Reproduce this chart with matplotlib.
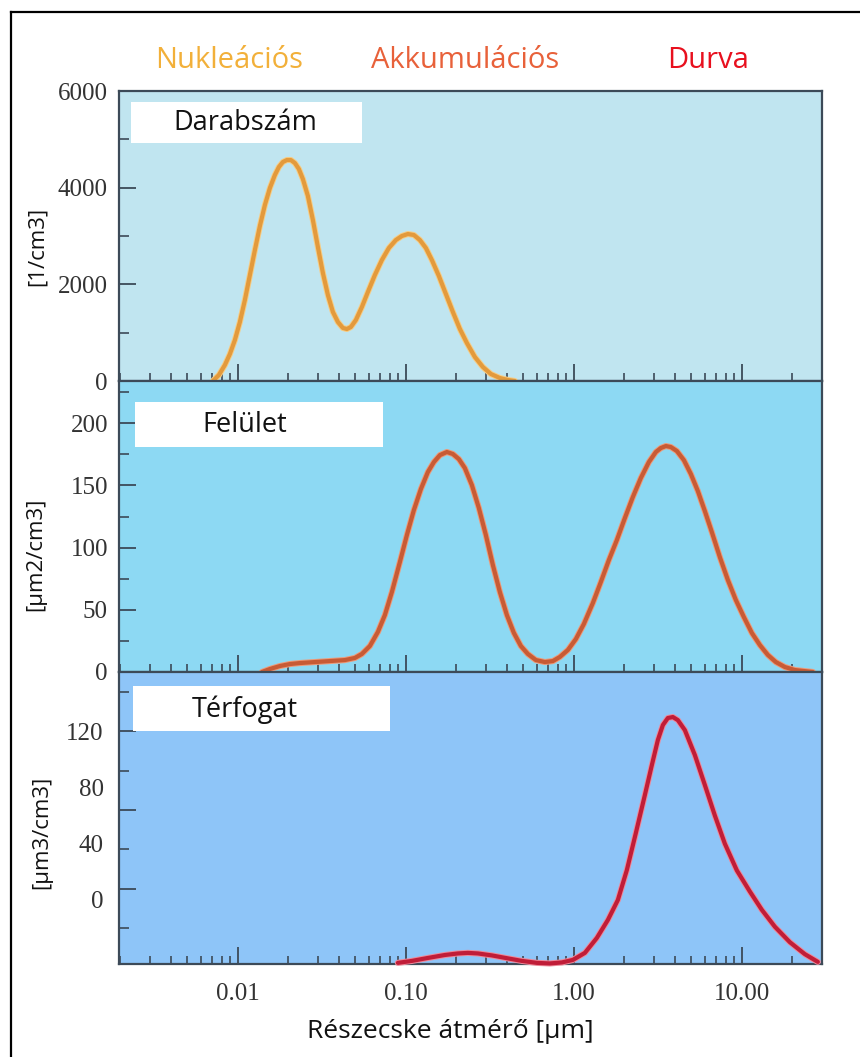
import matplotlib
matplotlib.use("Agg")
import matplotlib.pyplot as plt
import matplotlib.patheffects as pe
from matplotlib.ticker import FixedLocator, LogLocator, NullFormatter

# ---------------- data ----------------
num_d = [0.007099, 0.007706, 0.008368, 0.008962, 0.009597, 0.010278, 0.011007, 0.011788,
         0.012624, 0.013519, 0.014478, 0.015505, 0.016604, 0.017539, 0.018527, 0.019571,
         0.020673, 0.021838, 0.023068, 0.024369, 0.026102, 0.027954, 0.029936, 0.032063,
         0.034337, 0.036775, 0.039377, 0.042170, 0.044548, 0.047058, 0.050396, 0.054715,
         0.059402, 0.065390, 0.071969, 0.079212, 0.087193, 0.094666, 0.10278, 0.11158,
         0.12115, 0.13152, 0.14282, 0.15722, 0.17302, 0.19046, 0.20962, 0.23075, 0.25742,
         0.28727, 0.32063, 0.36265, 0.40469, 0.44548]
num_v = [0, 124, 331, 559, 848, 1221, 1676, 2193, 2710, 3207, 3641, 3993, 4262, 4428, 4531,
         4572, 4572, 4510, 4386, 4179, 3828, 3331, 2773, 2235, 1779, 1428, 1221, 1097, 1076,
         1117, 1262, 1531, 1841, 2193, 2503, 2752, 2917, 3000, 3041, 3021, 2917, 2752, 2503,
         2172, 1800, 1428, 1076, 786, 497, 290, 145, 62, 21, 0]

surf_d = [0.013895, 0.015505, 0.017783, 0.020394, 0.023388, 0.028729, 0.035287, 0.043348,
          0.049714, 0.054715, 0.061054, 0.068129, 0.074989, 0.082540, 0.092100, 0.10139,
          0.11158, 0.12283, 0.13520, 0.14678, 0.15937, 0.17539, 0.19046, 0.20673, 0.22444,
          0.24709, 0.27199, 0.29936, 0.32950, 0.36265, 0.39921, 0.43947, 0.48362, 0.53231,
          0.59402, 0.67212, 0.74989, 0.82540, 0.92100, 1.0278, 1.1468, 1.2977, 1.4478,
          1.6156, 1.8030, 2.0121, 2.2444, 2.5049, 2.7954, 3.0768, 3.2950, 3.5287, 3.7783,
          4.1041, 4.5166, 4.9714, 5.4715, 6.0222, 6.6280, 7.3959, 8.2540, 9.2100, 10.278,
          11.468, 12.797, 14.282, 15.937, 18.030, 20.673, 26.474]
surf_v = [0, 2.4, 4.8, 6.4, 7.2, 8.0, 8.8, 9.6, 11.3, 14.5, 20.9, 32.2, 45.8, 64.3, 88.4,
          110.1, 130.2, 147.1, 160.8, 168.8, 174.4, 176.9, 175.3, 171.2, 164.0, 150.3, 131.8,
          110.1, 86.0, 64.3, 45.8, 31.4, 20.9, 14.5, 9.6, 8.0,
          8.8, 12.1, 17.7, 26.5, 38.6, 55.5, 72.4, 90.0, 106.1, 123.8, 140.7, 156.0, 168.8,
          176.9, 180.1, 181.7, 180.9, 177.7, 170.4, 159.2, 145.5, 129.4, 112.5, 92.4, 74.0,
          57.9, 44.2, 31.4, 21.7, 13.7, 8.0, 4.0, 1.6, 0]

vol_d = [0.0896, 0.1086, 0.1352, 0.1706, 0.2040, 0.2339, 0.2683, 0.3250, 0.4047, 0.4903,
         0.6023, 0.7197, 0.8484, 0.9863, 1.163, 1.370, 1.594, 1.828, 2.068, 2.339, 2.647,
         2.913, 3.162, 3.387, 3.627, 3.885, 4.159, 4.579, 5.251, 6.022, 6.908, 7.921,
         9.337, 11.16, 13.15, 15.72, 19.31, 23.71, 28.34]
vol_v = [-44.7, -43.3, -41.2, -39.1, -38.0, -37.6, -38.0, -39.4, -41.5, -43.3, -44.7,
         -45.1, -44.4, -42.6, -37.6, -27.0, -14.2, 0, 21.3, 47.6, 74.6, 95.9, 113.6, 124.3,
         129.3, 130.0, 127.8, 120.7, 103.0, 81.7, 60.0, 40.0, 21.0, 6.0, -7.0, -19.0,
         -30.0, -38.5, -44.0]

mode_names = ["Nukleációs", "Akkumulációs", "Durva"]
mode_colors = ["#F2B03A", "#E8613A", "#E8101E"]
panel_titles = ["Darabszám", "Felület", "Térfogat"]
y_units = ["[1/cm3]", "[μm2/cm3]", "[μm3/cm3]"]
x_tick_vals = [0.01, 0.1, 1.0, 10.0]
x_tick_labels = ["0.01", "0.10", "1.00", "10.00"]
num_ticks = [0, 2000, 4000, 6000]
surf_ticks = [0, 50, 100, 150, 200]
vol_ticks = [0, 40, 80, 120]
vol_tick_marks_long = [8, 64, 120]
vol_tick_marks_short = [-20, 36, 92, 148]

# ---------------- figure ----------------
W, H = 860, 1057
fig = plt.figure(figsize=(W / 100, H / 100), dpi=100)
fig.patch.set_facecolor("white")

SERIF = ["Liberation Serif", "DejaVu Serif"]
SANS = ["Open Sans", "DejaVu Sans"]
spine_col = "#3c4a58"
tick_col = "#333333"

left, width = 119 / W, (822 - 119) / W
panels = [
    (91, 381, "#C0E5F0"),
    (381, 672, "#8DD9F3"),
    (672, 964, "#8EC5F8"),
]
axes = []
for top, bot, bg in panels:
    ax = fig.add_axes([left, 1 - bot / H, width, (bot - top) / H])
    ax.set_facecolor(bg)
    ax.set_xscale("log")
    ax.set_xlim(0.00196, 30)
    for s in ax.spines.values():
        s.set_color(spine_col)
        s.set_linewidth(1.6)
    ax.xaxis.set_major_locator(FixedLocator(x_tick_vals))
    ax.xaxis.set_minor_locator(LogLocator(base=10, subs=[2, 3, 4, 5, 6, 7, 8, 9]))
    ax.xaxis.set_minor_formatter(NullFormatter())
    ax.tick_params(axis="x", which="major", direction="in", length=12, width=1.3,
                   color=spine_col, top=False)
    ax.tick_params(axis="x", which="minor", direction="in", length=6, width=1.2,
                   color=spine_col, top=False)
    ax.tick_params(axis="y", which="major", direction="in", length=12, width=1.3,
                   color=spine_col, right=False, pad=8, labelsize=18, labelcolor=tick_col)
    ax.tick_params(axis="y", which="minor", direction="in", length=7, width=1.2,
                   color=spine_col, right=False)
    axes.append(ax)

ax1, ax2, ax3 = axes
for ax in (ax1, ax2):
    ax.set_xticklabels([])

# x tick labels on bottom panel
ax3.set_xticklabels(x_tick_labels, fontsize=18, family=SERIF, color=tick_col)
ax3.tick_params(axis="x", which="major", pad=14)

# panel 1
ax1.set_ylim(0, 6000)
ax1.set_yticks(num_ticks)
ax1.set_yticks([1000, 3000, 5000], minor=True)
ax1.set_yticklabels([str(t) for t in num_ticks], family=SERIF)

# panel 2
ax2.set_ylim(0, 234)
ax2.set_yticks(surf_ticks)
ax2.set_yticks([25, 75, 125, 175, 225], minor=True)
ax2.set_yticklabels([str(t) for t in surf_ticks], family=SERIF)

# panel 3: tick marks and labels are offset from each other in the original
ax3.set_ylim(-45.5, 162)
ax3.set_yticks(vol_tick_marks_long)
ax3.set_yticklabels([""] * len(vol_tick_marks_long))
ax3.set_yticks(vol_tick_marks_short, minor=True)
sec = ax3.secondary_yaxis("left")
sec.set_yticks(vol_ticks)
sec.set_yticklabels([str(t) for t in vol_ticks], family=SERIF, fontsize=18, color=tick_col)
sec.tick_params(axis="y", length=0, pad=11)
sec.spines["left"].set_visible(False)

# curves
curve_specs = [
    (ax1, num_d, num_v, "#E39A3C", "#F6CD86"),
    (ax2, surf_d, surf_v, "#C75B35", "#EE9A78"),
    (ax3, vol_d, vol_v, "#C01D38", "#EE8A9A"),
]
for ax, d, v, col, halo in curve_specs:
    ax.plot(d, v, color=col, lw=3.0, solid_capstyle="round", solid_joinstyle="round",
            path_effects=[pe.Stroke(linewidth=4.4, foreground=halo), pe.Normal()],
            zorder=3, clip_on=False)

# panel title boxes
boxes = [(ax1, 131, 362, 102, 143), (ax2, 135, 383, 402, 447), (ax3, 133, 390, 686, 731)]
for (ax, x0, x1, y0, y1), title in zip(boxes, panel_titles):
    fig.patches.append(plt.Rectangle((x0 / W, 1 - y1 / H), (x1 - x0) / W, (y1 - y0) / H,
                                     transform=fig.transFigure, facecolor="white",
                                     edgecolor="none", zorder=5))
    fig.text(245 / W, 1 - ((y0 + y1) / 2 + 1) / H, title, fontsize=19.5, family=SANS,
             color="#111111", ha="center", va="center", zorder=6)

# y-axis unit labels
for (yc, xc), lab in zip([(246, 37), (554, 36), (832, 42)], y_units):
    fig.text(xc / W, 1 - yc / H, lab, rotation=90, fontsize=16, family=SANS,
             color="#111111", ha="center", va="center")

# mode labels on top
for xc, lab, col in zip([229, 465, 708], mode_names, mode_colors):
    fig.text(xc / W, 1 - 60 / H, lab, fontsize=21, family=SANS, color=col,
             ha="center", va="center")

# x-axis label
fig.text(450 / W, 1 - 1031 / H, "Részecske átmérő [μm]", fontsize=19, family=SANS,
         color="#111111", ha="center", va="center")

# outer frame (left and top edges visible)
fig.add_artist(plt.Line2D([11 / W, 11 / W], [0, 1 - 12 / H], transform=fig.transFigure,
                          color="black", lw=1.6))
fig.add_artist(plt.Line2D([11 / W, 1], [1 - 12 / H, 1 - 12 / H], transform=fig.transFigure,
                          color="black", lw=1.6))

fig.savefig("out.png", dpi=100, facecolor="white")
